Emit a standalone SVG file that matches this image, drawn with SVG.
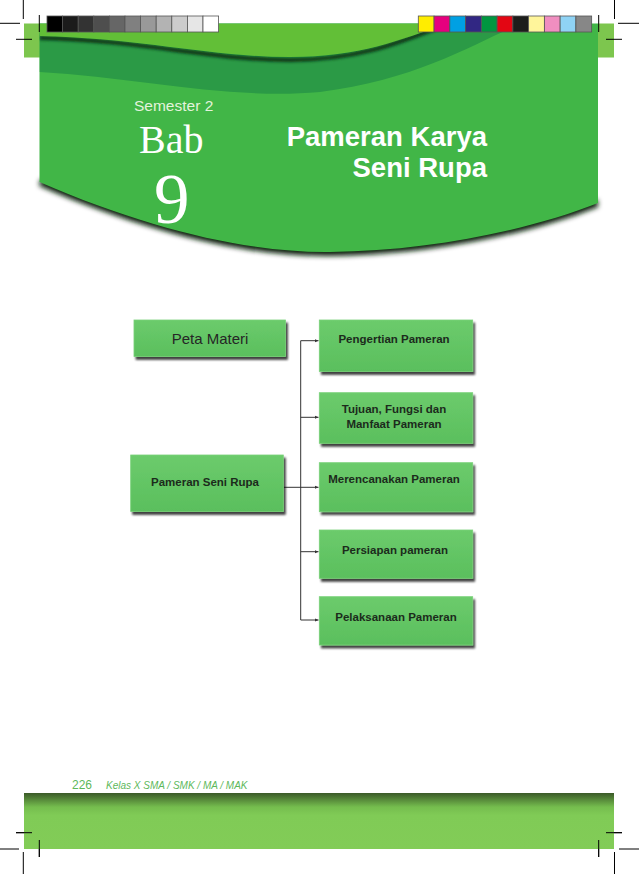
<svg xmlns="http://www.w3.org/2000/svg" width="639" height="874" viewBox="0 0 639 874">
<style>
.crop{stroke:#000;stroke-width:1;fill:none}
.sw{stroke:#555;stroke-width:0.8}
.box{fill:url(#boxg);stroke:#79d179;stroke-width:0.8;filter:url(#sh)}
.lbl{font-family:"Liberation Sans",Arial,sans-serif;font-weight:bold;font-size:11.5px;fill:#1c2b1c;text-anchor:middle}
.conn{stroke:#333;stroke-width:1;fill:none}
.title{font-family:"Liberation Sans",Arial,sans-serif;font-weight:bold;font-size:27.5px;fill:#fff;text-anchor:end}
</style>
<defs>
<linearGradient id="boxg" x1="0" y1="0" x2="0" y2="1">
<stop offset="0" stop-color="#6ccb6c"/>
<stop offset="1" stop-color="#5abf5d"/>
</linearGradient>
<linearGradient id="footg" x1="0" y1="0" x2="0" y2="1">
<stop offset="0" stop-color="#3b5a28"/>
<stop offset="0.25" stop-color="#75bd4e"/>
<stop offset="0.4" stop-color="#80cb56"/>
<stop offset="1" stop-color="#82cc57"/>
</linearGradient>
<filter id="sh" x="-10%" y="-10%" width="130%" height="150%">
<feGaussianBlur in="SourceAlpha" stdDeviation="1.3"/>
<feOffset dx="2" dy="3" result="o"/>
<feComponentTransfer in="o" result="s"><feFuncA type="linear" slope="0.75"/></feComponentTransfer>
<feMerge><feMergeNode in="s"/><feMergeNode in="SourceGraphic"/></feMerge>
</filter>
<filter id="blur3" x="-10%" y="-20%" width="120%" height="150%"><feGaussianBlur stdDeviation="2.5"/></filter>
<filter id="blur2" x="-10%" y="-50%" width="120%" height="200%"><feGaussianBlur stdDeviation="1.8"/></filter>
<clipPath id="panelclip">
<path d="M39.5,23.5 H598 V203 C530,230 430,251 330,252 C250,253 150,230 39.5,182 Z"/>
</clipPath>
<marker id="arr" markerWidth="5" markerHeight="5" refX="4" refY="2.5" orient="auto" markerUnits="userSpaceOnUse">
<path d="M0,0.8 L4,2.5 L0,4.2 Z" fill="#333"/>
</marker>
</defs>

<rect width="639" height="874" fill="#fff"/>

<!-- header -->
<g id="header">
<rect x="24" y="23.5" width="16" height="34" fill="#7dc64e"/>
<rect x="598" y="23.5" width="16" height="34" fill="#7dc64e"/>
<path d="M39.5,186 C150,234 250,257 330,256 C430,255 530,234 598,207 V200 L39.5,180 Z" fill="#0b2410" filter="url(#blur3)"/>
<path d="M39.5,23.5 H598 V203 C530,230 430,251 330,252 C250,253 150,230 39.5,182 Z" fill="#41b647"/>
<g clip-path="url(#panelclip)">
<path d="M39.5,23.5 H522 C480,40 420,80 320,92 C230,100 140,78 39.5,72 Z" fill="#2b9a46"/>
<path d="M39.5,38 C140,40 210,60 290,60 C360,60 400,42 447,24" fill="none" stroke="#0c3515" stroke-width="4" filter="url(#blur2)"/>
<path d="M39.5,23.5 H447 C400,40 360,57 290,57 C210,57 140,38 39.5,36 Z" fill="#62bf37"/>
</g>
</g>

<!-- colour bars -->
<g id="colorbars">
<rect x="47" y="16" width="15.6" height="16" fill="#000" class="sw"/>
<rect x="62.6" y="16" width="15.6" height="16" fill="#1b1b1b" class="sw"/>
<rect x="78.2" y="16" width="15.6" height="16" fill="#333" class="sw"/>
<rect x="93.8" y="16" width="15.6" height="16" fill="#4e4e4e" class="sw"/>
<rect x="109.4" y="16" width="15.6" height="16" fill="#666" class="sw"/>
<rect x="125" y="16" width="15.6" height="16" fill="#808080" class="sw"/>
<rect x="140.6" y="16" width="15.6" height="16" fill="#999" class="sw"/>
<rect x="156.2" y="16" width="15.6" height="16" fill="#b3b3b3" class="sw"/>
<rect x="171.8" y="16" width="15.6" height="16" fill="#ccc" class="sw"/>
<rect x="187.4" y="16" width="15.6" height="16" fill="#e6e6e6" class="sw"/>
<rect x="203" y="16" width="15.6" height="16" fill="#fff" class="sw"/>
<rect x="418.3" y="16" width="15.76" height="16" fill="#ffed00" class="sw"/>
<rect x="434.06" y="16" width="15.76" height="16" fill="#e6007e" class="sw"/>
<rect x="449.82" y="16" width="15.76" height="16" fill="#00a0e3" class="sw"/>
<rect x="465.58" y="16" width="15.76" height="16" fill="#312783" class="sw"/>
<rect x="481.34" y="16" width="15.76" height="16" fill="#009640" class="sw"/>
<rect x="497.1" y="16" width="15.76" height="16" fill="#e30613" class="sw"/>
<rect x="512.86" y="16" width="15.76" height="16" fill="#1d1d1b" class="sw"/>
<rect x="528.62" y="16" width="15.76" height="16" fill="#fff59b" class="sw"/>
<rect x="544.38" y="16" width="15.76" height="16" fill="#f08ec0" class="sw"/>
<rect x="560.14" y="16" width="15.76" height="16" fill="#8fd3f5" class="sw"/>
<rect x="575.9" y="16" width="15.76" height="16" fill="#878787" class="sw"/>
</g>

<!-- crop marks -->
<g id="cropmarks">
<path class="crop" d="M23.3,0 V19 M0,23.3 H20 M39.3,15 V32 M16,39.3 H32"/>
<path class="crop" d="M614.5,0 V19 M618,23.3 H639 M598.7,15 V32 M606,39.3 H622"/>
<path class="crop" d="M16,832.7 H32 M0,849 H19 M39.3,840 V857 M23.3,852 V874"/>
<path class="crop" d="M606,832.7 H622 M619,849 H639 M598.7,840 V857 M614.5,852 V874"/>
</g>

<!-- header texts -->
<g id="headertext">
<text x="134" y="111" font-family="Liberation Sans, Arial, sans-serif" font-size="15.5" fill="#e3f3dc">Semester 2</text>
<text x="139" y="153" font-family="Liberation Serif, Times New Roman, serif" font-size="40" fill="#fff">Bab</text>
<text x="154" y="223" font-family="Liberation Serif, Times New Roman, serif" font-size="71" fill="#fff">9</text>
<text class="title" x="487" y="146">Pameran Karya</text>
<text class="title" x="487" y="177">Seni Rupa</text>
</g>

<!-- connectors -->
<g id="connectors">
<path class="conn" d="M300.7,340.7 V620"/>
<path class="conn" d="M300.7,340.7 H318.5" marker-end="url(#arr)"/>
<path class="conn" d="M300.7,417.3 H318.5" marker-end="url(#arr)"/>
<path class="conn" d="M283.5,487.3 H318.5" marker-end="url(#arr)"/>
<path class="conn" d="M300.7,551.7 H318.5" marker-end="url(#arr)"/>
<path class="conn" d="M300.7,620 H318.5" marker-end="url(#arr)"/>
</g>

<!-- nodes -->
<g id="node-peta">
<rect class="box" x="134" y="320" width="151.5" height="36.5"/>
<text x="210" y="343.5" font-family="Liberation Sans, Arial, sans-serif" font-size="15" fill="#262626" text-anchor="middle">Peta Materi</text>
</g>
<g id="node-pameran">
<rect class="box" x="130.7" y="455" width="152.6" height="56.5"/>
<text class="lbl" x="205" y="486">Pameran Seni Rupa</text>
</g>
<g id="node-pengertian">
<rect class="box" x="319.3" y="320" width="153.4" height="51.5"/>
<text class="lbl" x="394" y="343">Pengertian Pameran</text>
</g>
<g id="node-tujuan">
<rect class="box" x="319.3" y="392.7" width="153.4" height="50.6"/>
<text class="lbl" x="394" y="413">Tujuan, Fungsi dan</text>
<text class="lbl" x="394" y="428">Manfaat Pameran</text>
</g>
<g id="node-merencanakan">
<rect class="box" x="319.3" y="462.7" width="153.4" height="49"/>
<text class="lbl" x="394" y="483">Merencanakan Pameran</text>
</g>
<g id="node-persiapan">
<rect class="box" x="319.3" y="530" width="153.4" height="48.3"/>
<text class="lbl" x="395" y="553.5">Persiapan pameran</text>
</g>
<g id="node-pelaksanaan">
<rect class="box" x="319.3" y="596.7" width="153.4" height="48.3"/>
<text class="lbl" x="396" y="621">Pelaksanaan Pameran</text>
</g>

<!-- footer -->
<g id="footer">
<text x="72" y="789" font-family="Liberation Sans, Arial, sans-serif" font-size="12" fill="#5db85a">226</text>
<text x="106" y="789" font-family="Liberation Sans, Arial, sans-serif" font-size="10" font-style="italic" fill="#5db85a">Kelas X SMA / SMK / MA / MAK</text>
<rect x="24" y="793" width="590" height="56" fill="url(#footg)"/>
</g>
<path class="crop" d="M16,832.7 H32 M39.3,840 V857 M606,832.7 H622 M598.7,840 V857"/>
</svg>
